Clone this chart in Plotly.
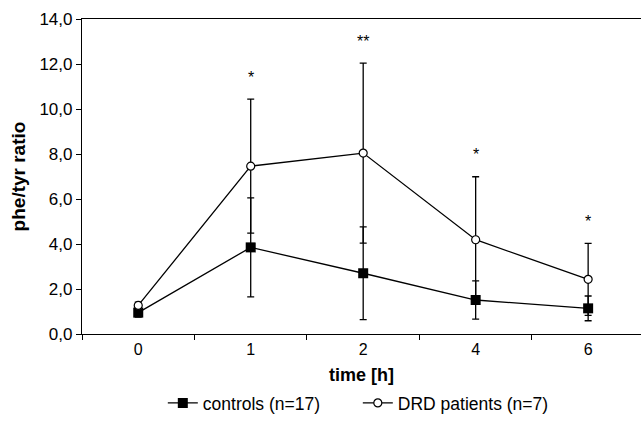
import plotly.graph_objects as go

time_labels = ["0", "1", "2", "4", "6"]
controls_mean = [0.95, 3.85, 2.70, 1.51, 1.14]
controls_err = [0.2, 2.2, 2.06, 0.85, 0.55]
drd_mean = [1.27, 7.46, 8.04, 4.19, 2.43]
drd_err = [0.15, 2.98, 4.0, 2.8, 1.6]
sig_labels = ["", "*", "**", "*", "*"]
y_ticks = [0, 2, 4, 6, 8, 10, 12, 14]

font = "Liberation Sans, Arial, sans-serif"

fig = go.Figure()
fig.add_trace(go.Scatter(
    x=time_labels, y=controls_mean, mode="lines+markers", name="controls (n=17)",
    line=dict(color="black", width=1.3),
    marker=dict(symbol="square", size=10, color="black"),
    error_y=dict(type="data", array=controls_err, visible=True, color="black", thickness=1.3, width=3.5),
))
fig.add_trace(go.Scatter(
    x=time_labels, y=drd_mean, mode="lines+markers", name="DRD patients (n=7)",
    line=dict(color="black", width=1.3),
    marker=dict(symbol="circle", size=8, color="white", line=dict(color="black", width=1.2)),
    error_y=dict(type="data", array=drd_err, visible=True, color="black", thickness=1.3, width=3.5),
))

for i, (m, e, s) in enumerate(zip(drd_mean, drd_err, sig_labels)):
    if s:
        fig.add_annotation(x=i, y=m + e, text=s, showarrow=False, yshift=22,
                           font=dict(family=font, size=16, color="black"))

fig.update_layout(
    width=641, height=421,
    margin=dict(l=82, r=0, t=19, b=87),
    paper_bgcolor="white", plot_bgcolor="white",
    separators=",.",
    font=dict(family=font, size=17, color="black"),
    showlegend=True,
    legend=dict(orientation="h", xref="container", yref="container",
                x=0.254, xanchor="left", y=0.0, yanchor="bottom",
                font=dict(size=17.5), traceorder="normal",
                entrywidth=150, entrywidthmode="pixels"),
)
fig.update_xaxes(
    type="category", range=[-0.5, 4.47], showline=True, linecolor="black", linewidth=1.2,
    mirror=True, ticks="outside", tickson="boundaries", ticklen=5, tickcolor="black",
    showgrid=False, zeroline=False, automargin=False, ticklabelstandoff=1,
    title=dict(text="<b>time [h]</b>", font=dict(size=18), standoff=18),
    tickfont=dict(size=16),
)
fig.update_yaxes(
    range=[0, 14], tickvals=y_ticks, tickformat=".1f", showline=True, linecolor="black",
    linewidth=1.2, ticks="outside", ticklen=5, tickcolor="black", showgrid=False,
    zeroline=False, tickfont=dict(size=17), automargin=False,
    title=dict(text="<b>phe/tyr ratio</b>", font=dict(size=19), standoff=8),
)

fig.write_html("out.html", config={"displayModeBar": False},
               post_script="document.body.style.margin='0';document.body.style.overflow='hidden';")
